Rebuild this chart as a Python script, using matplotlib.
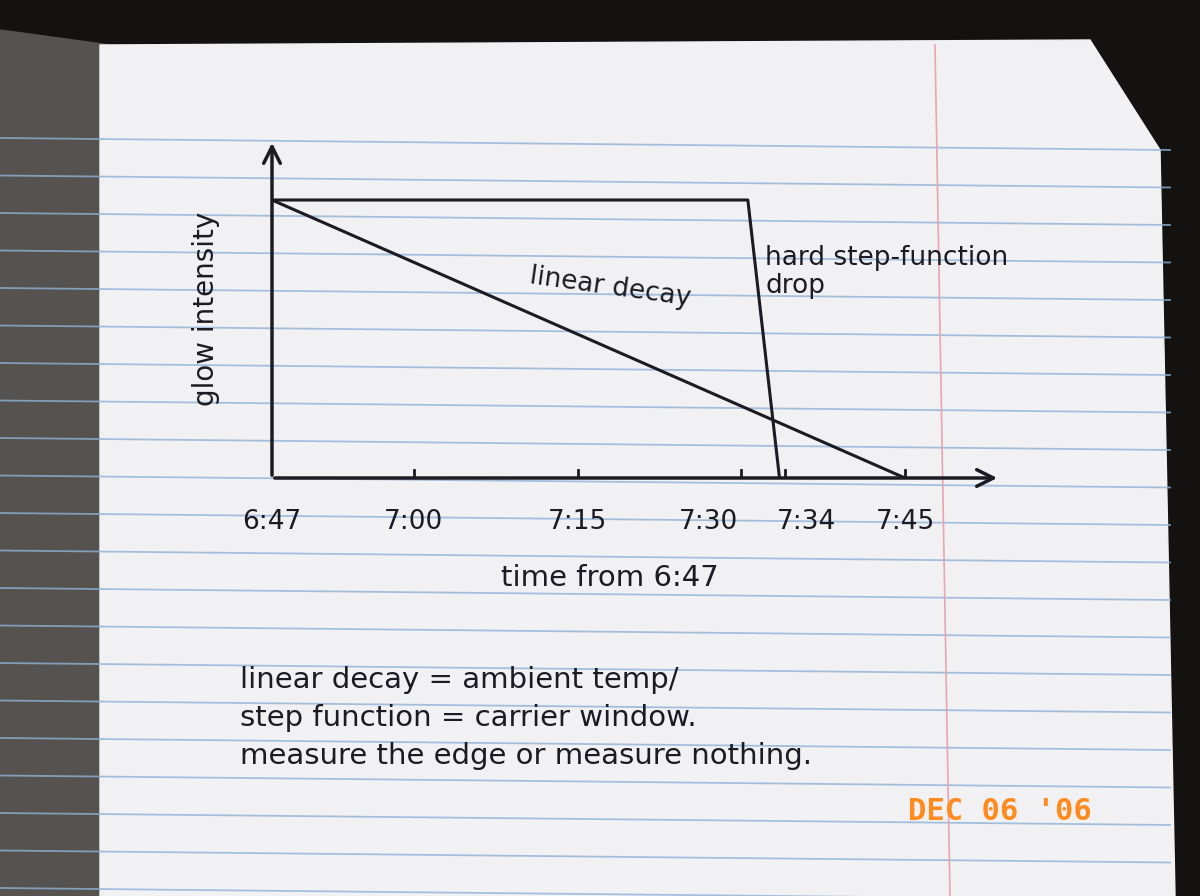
import matplotlib.pyplot as plt
from matplotlib.patches import Polygon

W, H = 1200, 896

tick_minutes = [0, 13, 28, 43, 47, 58]
tick_labels = ["6:47", "7:00", "7:15", "7:30", "7:34", "7:45"]
decay_x = [0, 58]
decay_y = [1.0, 0.0]
step_x = [0, 43.6, 46.5]
step_y = [1.0, 1.0, 0.0]

notes = ["linear decay = ambient temp/",
         "step function = carrier window.",
         "measure the edge or measure nothing."]

INK = "#1c1a22"
fig = plt.figure(figsize=(12, 8.96), dpi=100)
bg = fig.add_axes([0, 0, 1, 1])
bg.set_xlim(0, W)
bg.set_ylim(H, 0)
bg.axis("off")
bg.add_patch(plt.Rectangle((0, 0), W, H, color="#141210"))
bg.add_patch(Polygon([(0, 30), (110, 45), (110, 896), (0, 896)], color="#55524f"))
bg.add_patch(Polygon([(100, 45), (1090, 40), (1160, 150), (1175, 896), (100, 896)],
                     color="#f1f1f4"))
for i in range(21):
    y = 150 + i * 37.5
    bg.plot([0, 1170], [y - 12, y], color="#8fb2d6", lw=1.3, alpha=0.8)
bg.plot([935, 950], [45, 896], color="#e7a6ad", lw=1.2)
bg.text(1000, 812, "DEC 06 '06", color="#ff8a1e", fontsize=22, ha="center",
        va="center", family="DejaVu Sans Mono", fontweight="bold")
for i, line in enumerate(notes):
    bg.text(240, 680 + i * 38, line, fontsize=21, color=INK, va="center")
bg.text(610, 578, "time from 6:47", fontsize=21, color=INK, ha="center", va="center")

ax = fig.add_axes([272 / W, (H - 478) / H, 728 / W, 338 / H])
ax.patch.set_alpha(0)
ax.set_xlim(0, 58 * 728 / 633)
ax.set_ylim(0, 338 / 278)
for s in ax.spines.values():
    s.set_visible(False)
ax.set_xticks([])
ax.set_yticks([])
ax.annotate("", xy=(1, 0), xytext=(0, 0), xycoords="axes fraction",
            arrowprops=dict(arrowstyle="->", color=INK, lw=2.5, mutation_scale=30))
ax.annotate("", xy=(0, 1), xytext=(0, 0), xycoords="axes fraction",
            arrowprops=dict(arrowstyle="->", color=INK, lw=2.5, mutation_scale=30))
ax.plot(decay_x, decay_y, color=INK, lw=2.2)
ax.plot(step_x, step_y, color=INK, lw=2.2)
label_shift = {"7:30": -3.0, "7:34": 2.0}
for m, lab in zip(tick_minutes, tick_labels):
    if m > 0:
        ax.plot([m, m], [-0.03, 0.03], color=INK, lw=2)
    ax.text(m + label_shift.get(lab, 0), -0.16, lab, fontsize=19, color=INK,
            ha="center", va="center")
ax.text(-0.09, 0.5, "glow intensity", rotation=90, fontsize=20, color=INK,
        ha="center", va="center", transform=ax.transAxes)
ax.text(23.5, 0.62, "linear decay", rotation=-8, fontsize=19, color=INK)
ax.text(45.2, 0.74, "hard step-function\ndrop", fontsize=19, color=INK,
        va="center", linespacing=1.1)

fig.savefig("out.png", dpi=100)
